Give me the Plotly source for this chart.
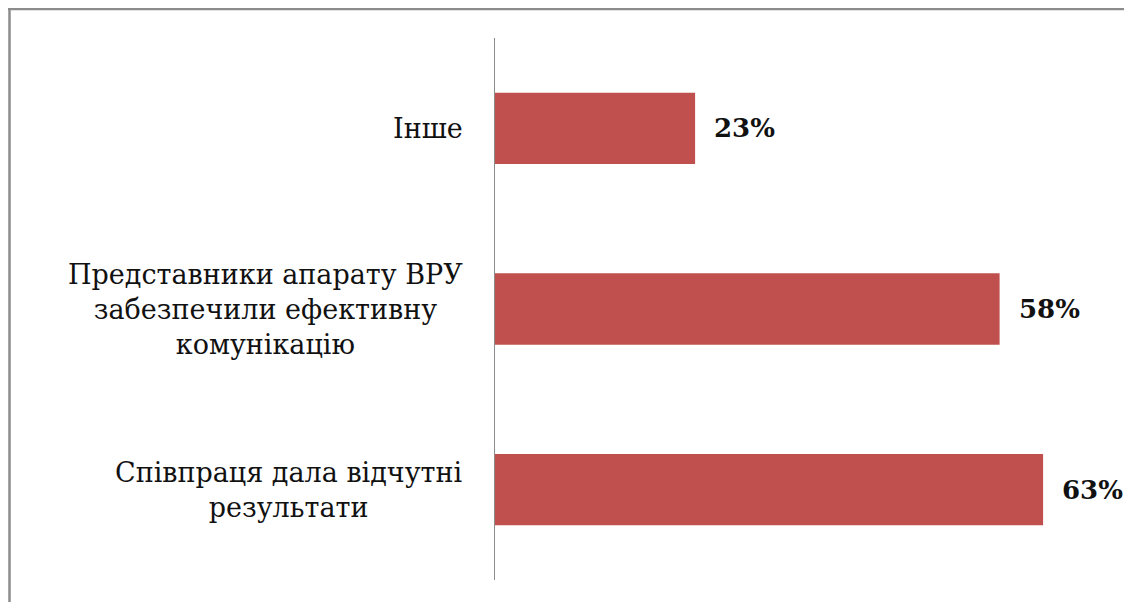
import plotly.graph_objects as go

categories = ["Співпраця дала відчутні<br>результати",
              "Представники апарату ВРУ<br>забезпечили ефективну<br>комунікацію",
              "Інше"]
values = [63, 58, 23]
value_labels = ["63%", "58%", "23%"]

bar_color = "#C0504D"
frame_color = "#8C8C8C"

fig = go.Figure(go.Bar(
    y=categories, x=values, orientation="h",
    marker=dict(color=bar_color, line=dict(width=0)),
    width=0.395, hoverinfo="skip",
))

# page has an 8px body margin, so the figure is 8px smaller on each axis
W, H = 1124, 594
ml, mr, mt, mb = 487, 28, 30, 22
pw, ph = W - ml - mr, H - mt - mb

annotations = []
for c in categories:
    annotations.append(dict(
        x=0, y=c, xref="x", yref="y", text=c, showarrow=False,
        xanchor="right", yanchor="middle", align="center", xshift=-30,
        font=dict(family="DejaVu Serif", size=27, color="#111111"),
    ))
for c, v, t in zip(categories, values, value_labels):
    annotations.append(dict(
        x=v, y=c, xref="x", yref="y", text="<b>" + t + "</b>", showarrow=False,
        xanchor="left", yanchor="middle", xshift=17,
        font=dict(family="DejaVu Serif", size=26, color="#111111"),
    ))

def px_x(p):
    return (p - ml) / pw

def px_y(p):
    return 1 - (p - mt) / ph

shapes = [
    dict(type="line", xref="paper", yref="paper", x0=px_x(1.5), x1=px_x(1.5),
         y0=px_y(0), y1=px_y(594), line=dict(color=frame_color, width=2.5)),
    dict(type="line", xref="paper", yref="paper", x0=px_x(0), x1=px_x(1124),
         y0=px_y(1), y1=px_y(1), line=dict(color=frame_color, width=2.5)),
]

fig.update_layout(
    width=W, height=H,
    margin=dict(l=ml, r=mr, t=mt, b=mb),
    paper_bgcolor="white", plot_bgcolor="white",
    showlegend=False,
    xaxis=dict(range=[0, 70], visible=False, showgrid=False, zeroline=False),
    yaxis=dict(showticklabels=False, showgrid=False, zeroline=False,
               showline=True, linecolor="#8C8C8C", linewidth=1, ticks=""),
    annotations=annotations,
    shapes=shapes,
)

fig.write_html("out.html")
